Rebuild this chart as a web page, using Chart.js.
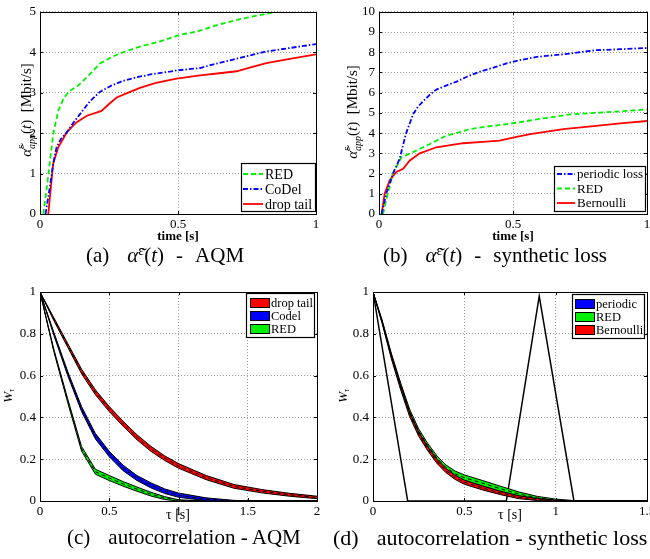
<!DOCTYPE html>
<html>
<head>
<meta charset="utf-8">
<script src="https://cdn.jsdelivr.net/npm/chart.js@4.4.0/dist/chart.umd.min.js"></script>
<style>
  html, body { margin: 0; padding: 0; background: #fff; width: 650px; height: 559px; overflow: hidden; }
  canvas { position: absolute; }
  .cap { position: absolute; font-family: "Liberation Serif", serif; font-size: 21px; line-height: 21px; white-space: pre; color: #000; }
  .cap i { font-style: italic; }
  .cap sup { font-size: 14px; vertical-align: 7px; line-height: 0; }
  .gap { display: inline-block; width: 18px; }
  .sp { display: inline-block; width: 12px; }
</style>
</head>
<body>
<canvas id="chartA" width="325" height="250" style="left:0;top:0"></canvas>
<canvas id="chartB" width="335" height="250" style="left:325px;top:0"></canvas>
<canvas id="chartC" width="325" height="250" style="left:0;top:280px"></canvas>
<canvas id="chartD" width="335" height="250" style="left:325px;top:280px"></canvas>

<div class="cap" style="left:86px;top:245px">(a)<span class="gap"></span><i>α̃</i><sup>ε</sup>(<i>t</i>)<span class="sp"></span>-<span class="sp"></span>AQM</div>
<div class="cap" style="left:383px;top:245px">(b)<span class="gap"></span><i>α̃</i><sup>ε</sup>(<i>t</i>)<span class="sp"></span>-<span class="sp"></span>synthetic loss</div>
<div class="cap" style="left:67px;top:527px">(c)<span class="gap"></span>autocorrelation - AQM</div>
<div class="cap" style="left:333px;top:527px;font-size:22px">(d)<span class="gap"></span>autocorrelation - synthetic loss</div>

<script>
const serif = '"Liberation Serif", "Times New Roman", serif';

// ====== (a) throughput, AQM ======
const aqmRedTime = [0.012, 0.028, 0.048, 0.066, 0.085, 0.103, 0.139, 0.18, 0.217, 0.26, 0.30, 0.362, 0.435, 0.507, 0.568, 0.64, 0.725, 0.797, 0.857, 1.0];
const aqmRed     = [0, 0.84, 1.98, 2.55, 2.85, 3.02, 3.18, 3.45, 3.72, 3.88, 4.0, 4.14, 4.27, 4.43, 4.51, 4.67, 4.82, 4.92, 5.0, 5.2];
const aqmCodelTime = [0.02, 0.036, 0.048, 0.06, 0.075, 0.097, 0.12, 0.145, 0.18, 0.217, 0.26, 0.30, 0.35, 0.40, 0.45, 0.495, 0.58, 0.64, 0.70, 0.76, 0.82, 0.90, 1.0];
const aqmCodel     = [0, 0.68, 1.25, 1.65, 1.85, 2.02, 2.25, 2.47, 2.78, 3.02, 3.18, 3.29, 3.38, 3.45, 3.5, 3.55, 3.61, 3.72, 3.82, 3.92, 4.02, 4.1, 4.2];
const aqmDropTime = [0.03, 0.04, 0.048, 0.066, 0.083, 0.097, 0.115, 0.133, 0.17, 0.223, 0.25, 0.278, 0.32, 0.362, 0.42, 0.495, 0.58, 0.65, 0.712, 0.76, 0.82, 0.90, 1.0];
const aqmDrop     = [0, 0.7, 1.25, 1.65, 1.85, 2.02, 2.15, 2.27, 2.43, 2.55, 2.72, 2.88, 3.0, 3.12, 3.24, 3.35, 3.43, 3.48, 3.53, 3.62, 3.73, 3.83, 3.95];

// ====== (b) throughput, synthetic loss ======
const synPeriodicTime = [0.01, 0.027, 0.052, 0.077, 0.10, 0.127, 0.145, 0.165, 0.19, 0.214, 0.25, 0.29, 0.33, 0.377, 0.43, 0.476, 0.53, 0.588, 0.65, 0.713, 0.76, 0.81, 0.90, 1.0];
const synPeriodic     = [0, 1.0, 2.0, 2.73, 3.95, 4.93, 5.3, 5.58, 5.9, 6.15, 6.35, 6.55, 6.8, 7.04, 7.25, 7.45, 7.62, 7.77, 7.85, 7.93, 8.02, 8.1, 8.15, 8.21];
const synRedTime = [0.015, 0.027, 0.052, 0.084, 0.127, 0.19, 0.25, 0.30, 0.34, 0.40, 0.476, 0.53, 0.588, 0.65, 0.713, 0.81, 0.90, 1.0];
const synRed     = [0, 0.7, 2.0, 2.81, 3.06, 3.46, 3.87, 4.05, 4.2, 4.32, 4.44, 4.55, 4.68, 4.8, 4.93, 5.0, 5.08, 5.17];
const synBernTime = [0.01, 0.021, 0.04, 0.065, 0.09, 0.115, 0.152, 0.214, 0.314, 0.40, 0.45, 0.50, 0.564, 0.688, 0.81, 0.90, 1.0];
const synBern     = [0, 1.0, 1.67, 2.08, 2.24, 2.65, 3.0, 3.3, 3.5, 3.58, 3.63, 3.78, 3.95, 4.2, 4.36, 4.48, 4.6];

// ====== (c) autocorrelation, AQM (mean and half width of the band) ======
const aqmTau = [0, 0.1, 0.2, 0.3, 0.4, 0.5, 0.6, 0.7, 0.8, 0.9, 1.0, 1.2, 1.4, 1.6, 1.8, 2.0];
const acDrop       = [1, 0.87, 0.745, 0.62, 0.52, 0.44, 0.37, 0.305, 0.25, 0.205, 0.168, 0.112, 0.07, 0.047, 0.03, 0.017];
const acDropSpread = [0, 0.007, 0.009, 0.011, 0.012, 0.012, 0.012, 0.012, 0.012, 0.011, 0.011, 0.01, 0.009, 0.008, 0.007, 0.006];
const acCodel       = [1, 0.8, 0.61, 0.44, 0.31, 0.225, 0.158, 0.11, 0.075, 0.047, 0.028, 0.008, 0.001, 0, 0, 0];
const acCodelSpread = [0, 0.007, 0.01, 0.012, 0.013, 0.013, 0.013, 0.012, 0.012, 0.011, 0.01, 0.007, 0.002, 0, 0, 0];
const acRed       = [1, 0.72, 0.48, 0.25, 0.14, 0.11, 0.082, 0.057, 0.033, 0.014, 0.003, 0, 0, 0, 0, 0];
const acRedSpread = [0, 0.006, 0.009, 0.011, 0.012, 0.012, 0.011, 0.01, 0.009, 0.007, 0.003, 0, 0, 0, 0, 0];

// ====== (d) autocorrelation, synthetic loss ======
const synTau = [0, 0.05, 0.1, 0.15, 0.2, 0.25, 0.3, 0.35, 0.4, 0.45, 0.5, 0.6, 0.7, 0.8, 0.9, 1.0, 1.1, 1.2, 1.5];
const acSynRed       = [1, 0.86, 0.70, 0.56, 0.43, 0.335, 0.265, 0.205, 0.16, 0.13, 0.112, 0.085, 0.058, 0.033, 0.015, 0.005, 0.001, 0, 0];
const acSynRedSpread = [0, 0.006, 0.008, 0.009, 0.01, 0.01, 0.01, 0.011, 0.012, 0.013, 0.013, 0.013, 0.012, 0.01, 0.007, 0.004, 0.001, 0, 0];
const acBern       = [1, 0.855, 0.69, 0.545, 0.415, 0.32, 0.25, 0.19, 0.145, 0.113, 0.09, 0.062, 0.038, 0.018, 0.007, 0.002, 0, 0, 0];
const acBernSpread = [0, 0.006, 0.008, 0.009, 0.01, 0.01, 0.01, 0.01, 0.01, 0.01, 0.01, 0.009, 0.008, 0.007, 0.005, 0.002, 0, 0, 0];
const periodicTau = [0, 0.19, 0.73, 0.91, 1.1, 1.5];
const acPeriodic  = [1, 0, 0, 0.98, 0, 0];

const GREEN = '#00f000', BLUE = '#0000ff', RED = '#ff0000';

function pts(xs, ys) { return xs.map((x, i) => ({ x, y: ys[i] })); }

function curve(xs, ys, color, dash, width) {
  return { data: pts(xs, ys), borderColor: color, borderDash: dash, borderWidth: width || 1.8, fill: false };
}

// mean line (dashed) + lower/upper edges with coloured fill in between
function band(xs, mean, spread, color) {
  const lo = mean.map((m, i) => Math.max(0, m - spread[i]));
  const hi = mean.map((m, i) => m + spread[i]);
  return [
    { data: pts(xs, mean), borderColor: '#000', borderWidth: 1, borderDash: [4, 3], fill: false },
    { data: pts(xs, lo), borderColor: '#000', borderWidth: 1, fill: false },
    { data: pts(xs, hi), borderColor: '#000', borderWidth: 1, fill: '-1', backgroundColor: color }
  ];
}

// lays out text pieces (with stacked super/subscripts) along one baseline
function drawRich(ctx, parts, x0, baseY) {
  let x = 0, prevX = 0, prevW = 0;
  const items = [];
  for (const p of parts) {
    ctx.font = p.font;
    const w = ctx.measureText(p.t).width;
    if (p.stack) {
      items.push({ p, x: prevX });
      prevW = Math.max(prevW, w);
      x = prevX + prevW;
    } else {
      items.push({ p, x });
      prevX = x; prevW = w; x += w;
    }
  }
  const start = x0 - x / 2;
  for (const it of items) {
    ctx.font = it.p.font;
    ctx.fillText(it.p.t, start + it.x, baseY + (it.p.dy || 0));
  }
}

const framePlugin = {
  id: 'frame',
  afterDatasetsDraw(chart, args, o) {
    const { ctx, chartArea: a } = chart;
    const sx = chart.scales.x, sy = chart.scales.y;
    ctx.save();
    ctx.strokeStyle = '#000';
    ctx.lineWidth = 1;
    ctx.setLineDash([]);
    // inward tick marks on all four sides
    ctx.beginPath();
    sx.ticks.forEach(t => {
      const px = Math.round(sx.getPixelForValue(t.value)) + 0.5;
      ctx.moveTo(px, a.bottom); ctx.lineTo(px, a.bottom - 3);
      ctx.moveTo(px, a.top); ctx.lineTo(px, a.top + 3);
    });
    sy.ticks.forEach(t => {
      const py = Math.round(sy.getPixelForValue(t.value)) + 0.5;
      ctx.moveTo(a.left, py); ctx.lineTo(a.left + 3, py);
      ctx.moveTo(a.right, py); ctx.lineTo(a.right - 3, py);
    });
    ctx.stroke();
    ctx.strokeRect(Math.round(a.left) + 0.5, Math.round(a.top) + 0.5, Math.round(a.right - a.left), Math.round(a.bottom - a.top));

    // legend box
    const L = o.legend;
    ctx.fillStyle = '#fff';
    ctx.fillRect(L.x, L.y, L.w, L.h);
    ctx.lineWidth = 1.2;
    ctx.strokeRect(L.x + 0.5, L.y + 0.5, L.w, L.h);
    ctx.font = L.size + 'px ' + serif;
    ctx.textBaseline = 'middle';
    L.items.forEach((it, i) => {
      const ry = L.y + L.row0 + i * L.rowH;
      if (L.patch) {
        ctx.fillStyle = it.color;
        ctx.fillRect(L.x + L.s0, ry - 5, L.s1 - L.s0, 10);
        ctx.lineWidth = 1;
        ctx.strokeStyle = '#000';
        ctx.strokeRect(L.x + L.s0 + 0.5, ry - 4.5, L.s1 - L.s0, 9);
      } else {
        ctx.strokeStyle = it.color;
        ctx.lineWidth = 1.8;
        ctx.setLineDash(it.dash || []);
        ctx.beginPath();
        ctx.moveTo(L.x + L.s0, ry); ctx.lineTo(L.x + L.s1, ry);
        ctx.stroke();
        ctx.setLineDash([]);
      }
      ctx.fillStyle = '#000';
      ctx.fillText(it.label, L.x + L.tx, ry + 1);
    });

    // axis titles
    ctx.fillStyle = '#000';
    ctx.textBaseline = 'alphabetic';
    ctx.font = o.xTitleFont + ' ' + serif;
    ctx.textAlign = 'center';
    ctx.fillText(o.xTitle, o.xTitleX, o.xTitleY);
    ctx.textAlign = 'left';
    ctx.save();
    ctx.translate(o.yTitleX, o.yTitleY);
    ctx.rotate(-Math.PI / 2);
    drawRich(ctx, o.yTitle, 0, 0);
    ctx.restore();
    ctx.restore();
  }
};

// tick labels as plain numbers: 0, 0.5, 1, 1.5 ...
const plainTick = v => String(Math.round(v * 100) / 100);

function makeChart(id, c) {
  const tickFont = { family: serif, size: 13 };
  return new Chart(document.getElementById(id), {
    type: 'line',
    data: { datasets: c.datasets },
    options: {
      responsive: false,
      animation: false,
      layout: { padding: c.pad },
      elements: { point: { radius: 0 }, line: { tension: 0 } },
      plugins: { legend: { display: false }, tooltip: { enabled: false }, frame: c.frame },
      scales: {
        x: {
          type: 'linear', min: c.x[0], max: c.x[1],
          ticks: { stepSize: c.x[2], font: tickFont, color: '#000', padding: 3, maxRotation: 0, autoSkip: false, callback: plainTick },
          grid: { color: '#9a9a9a', drawTicks: false },
          border: { display: false, dash: [1, 2] },
          afterFit: s => { s.height = c.xh; }
        },
        y: {
          type: 'linear', min: c.y[0], max: c.y[1],
          ticks: { stepSize: c.y[2], font: tickFont, color: '#000', padding: 4, autoSkip: false, callback: plainTick },
          grid: { color: '#9a9a9a', drawTicks: false },
          border: { display: false, dash: [1, 2] },
          afterFit: s => { s.width = c.yw; }
        }
      }
    },
    plugins: [framePlugin]
  });
}

const alphaTitle = [
  { t: 'α\u0303', font: 'italic 15px ' + serif },
  { t: 'ε', font: 'italic 10px ' + serif, dy: -7 },
  { t: 'app', font: 'italic 10px ' + serif, dy: 4, stack: true },
  { t: '(', font: '15px ' + serif },
  { t: 't', font: 'italic 15px ' + serif },
  { t: ')  [Mbit/s]', font: '15px ' + serif }
];
const wTitle = [
  { t: 'W', font: 'italic 13px ' + serif },
  { t: 'τ', font: 'italic 8px ' + serif, dy: 2 }
];

makeChart('chartA', {
  pad: { left: 0, top: 10, right: 9, bottom: 0 }, yw: 40, xh: 36,
  x: [0, 1, 0.5], y: [0, 5, 1],
  datasets: [
    curve(aqmRedTime, aqmRed, GREEN, [5, 3]),
    curve(aqmCodelTime, aqmCodel, BLUE, [5, 2, 1.5, 2]),
    curve(aqmDropTime, aqmDrop, RED, [])
  ],
  frame: {
    legend: { x: 241, y: 163, w: 74, h: 48, size: 14, row0: 11, rowH: 15, s0: 2, s1: 22, tx: 24, items: [
      { label: 'RED', color: GREEN, dash: [5, 3] },
      { label: 'CoDel', color: BLUE, dash: [5, 2, 1.5, 2] },
      { label: 'drop tail', color: RED }
    ] },
    xTitle: 'time [s]', xTitleFont: 'bold 13px', xTitleX: 178, xTitleY: 240,
    yTitle: alphaTitle, yTitleX: 31, yTitleY: 110
  }
});

makeChart('chartB', {
  pad: { left: 0, top: 9, right: 13, bottom: 0 }, yw: 54, xh: 36,
  x: [0, 1, 0.5], y: [0, 10, 1],
  datasets: [
    curve(synPeriodicTime, synPeriodic, BLUE, [5, 2, 1.5, 2]),
    curve(synRedTime, synRed, GREEN, [5, 3]),
    curve(synBernTime, synBern, RED, [])
  ],
  frame: {
    legend: { x: 229, y: 166, w: 91, h: 45, size: 13, row0: 8, rowH: 14.5, s0: 3, s1: 21, tx: 23, items: [
      { label: 'periodic loss', color: BLUE, dash: [5, 2, 1.5, 2] },
      { label: 'RED', color: GREEN, dash: [5, 3] },
      { label: 'Bernoulli', color: RED }
    ] },
    xTitle: 'time [s]', xTitleFont: 'bold 13px', xTitleX: 188, xTitleY: 240,
    yTitle: alphaTitle, yTitleX: 32, yTitleY: 112
  }
});

makeChart('chartC', {
  pad: { left: 0, top: 12, right: 8, bottom: 0 }, yw: 40, xh: 29,
  x: [0, 2, 0.5], y: [0, 1, 0.2],
  datasets: [
    ...band(aqmTau, acCodel, acCodelSpread, BLUE),
    ...band(aqmTau, acRed, acRedSpread, GREEN),
    ...band(aqmTau, acDrop, acDropSpread, RED)
  ],
  frame: {
    legend: { x: 246, y: 13, w: 68, h: 44, size: 12.5, row0: 10, rowH: 13, s0: 4, s1: 23, tx: 25, patch: true, items: [
      { label: 'drop tail', color: RED },
      { label: 'Codel', color: BLUE },
      { label: 'RED', color: GREEN }
    ] },
    xTitle: 'τ [s]', xTitleFont: '14px', xTitleX: 178, xTitleY: 239,
    yTitle: wTitle, yTitleX: 12, yTitleY: 116
  }
});

makeChart('chartD', {
  pad: { left: 0, top: 12, right: 13, bottom: 0 }, yw: 48, xh: 29,
  x: [0, 1.5, 0.5], y: [0, 1, 0.2],
  datasets: [
    ...band(synTau, acBern, acBernSpread, RED),
    ...band(synTau, acSynRed, acSynRedSpread, GREEN),
    curve(periodicTau, acPeriodic, '#000', [], 1.5)
  ],
  frame: {
    legend: { x: 247, y: 14, w: 72, h: 44, size: 12.5, row0: 10, rowH: 13, s0: 3, s1: 22, tx: 24, patch: true, items: [
      { label: 'periodic', color: BLUE },
      { label: 'RED', color: GREEN },
      { label: 'Bernoulli', color: RED }
    ] },
    xTitle: 'τ [s]', xTitleFont: '14px', xTitleX: 185, xTitleY: 239,
    yTitle: wTitle, yTitleX: 22, yTitleY: 116
  }
});
</script>
</body>
</html>
